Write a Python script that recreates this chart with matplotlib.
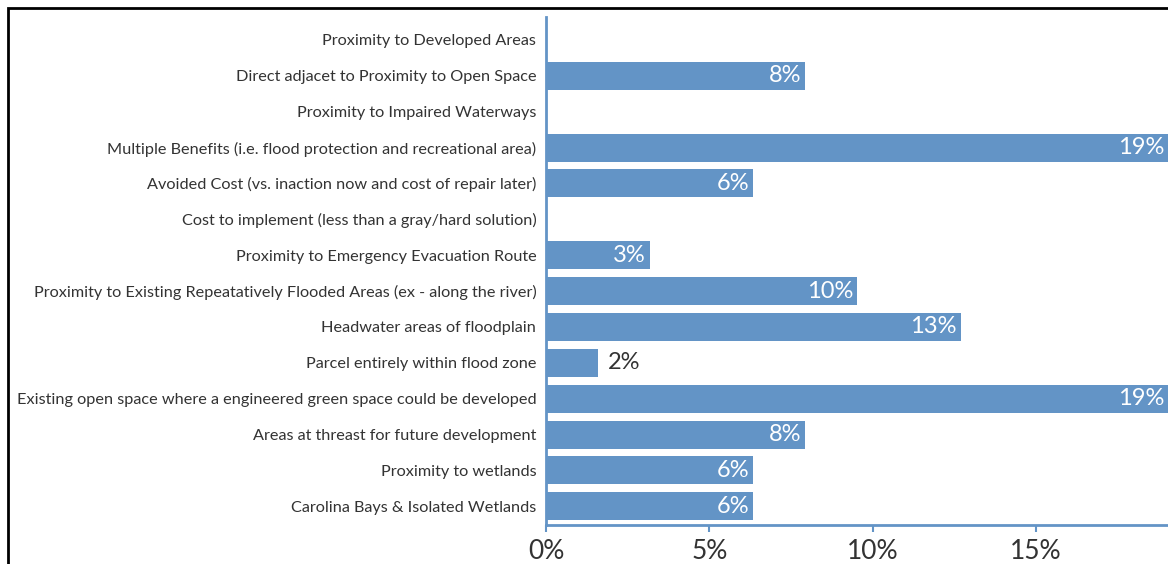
import matplotlib.pyplot as plt
from matplotlib.patches import Rectangle

categories = [
    'Proximity to Developed Areas',
    'Direct adjacet to Proximity to Open Space',
    'Proximity to Impaired Waterways',
    'Multiple Benefits (i.e. flood protection and recreational area)',
    'Avoided Cost (vs. inaction now and cost of repair later)',
    'Cost to implement (less than a gray/hard solution)',
    'Proximity to Emergency Evacuation Route',
    'Proximity to Existing Repeatatively Flooded Areas (ex - along the river)',
    'Headwater areas of floodplain',
    'Parcel entirely within flood zone',
    'Existing open space where a engineered green space could be developed',
    'Areas at threast for future development',
    'Proximity to wetlands',
    'Carolina Bays & Isolated Wetlands',
]
# percent of responses
values = [0, 7.94, 0, 19.05, 6.35, 0, 3.17, 9.52, 12.70, 1.59, 19.05, 7.94, 6.35, 6.35]
xticks = [0, 5, 10, 15]

bar_color = '#6394c6'
text_color = '#333333'
plt.rcParams['font.family'] = ['Lato', 'DejaVu Sans']

fig = plt.figure(figsize=(11.68, 5.64), dpi=100)
ax = fig.add_axes([546 / 1168, 1 - 525 / 564, 1 - 546 / 1168, (525 - 17) / 564])

ypos = list(range(len(categories)))
ax.barh(ypos, values, height=0.78, color=bar_color)
ax.set_yticks(ypos)
ax.set_yticklabels(categories, fontsize=11.7, color=text_color)
ax.set_ylim(13.52, -0.64)
ax.set_xlim(0, 19.05)
ax.set_xticks(xticks)
ax.set_xticklabels([f'{t}%' for t in xticks], fontsize=19, color=text_color)
ax.tick_params(axis='y', length=0, pad=7)
ax.tick_params(axis='x', length=5, color=bar_color, width=1.5, pad=5)

for s in ['top', 'right']:
    ax.spines[s].set_visible(False)
for s in ['left', 'bottom']:
    ax.spines[s].set_color(bar_color)
    ax.spines[s].set_linewidth(2)

for y, v in zip(ypos, values):
    if v == 0:
        continue
    lbl = f'{round(v):d}%'
    if v > 2.5:
        ax.text(v - 0.12, y, lbl, ha='right', va='center', color='white', fontsize=17)
    else:
        ax.text(v + 0.3, y, lbl, ha='left', va='center', color=text_color, fontsize=17)

# frame line along the top and left of the image
fig.patches.append(Rectangle((7.5 / 1168, -0.2), 1.2, 0.2 + 1 - 8 / 564, transform=fig.transFigure,
                             fill=False, edgecolor='black', linewidth=2))

fig.savefig('out.png', dpi=100)
